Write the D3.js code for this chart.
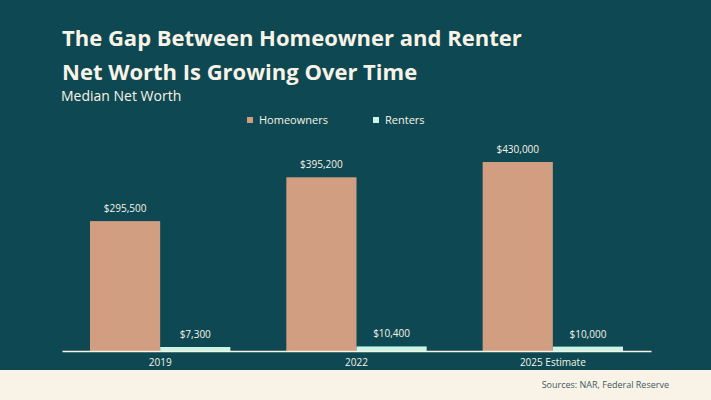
<!DOCTYPE html><html><head><meta charset="utf-8">
<script src="https://cdn.jsdelivr.net/npm/d3@7"></script>
<style>body{margin:0}svg{display:block}</style></head><body>
<script>
const categories = ["2019","2022","2025 Estimate"];
const seriesNames = ["Homeowners","Renters"];
const homeowners = [295500,395200,430000];
const renters = [7300,10400,10000];
const colors = ["#d19e82","#c8f5e6"];
const W=711,H=400;
const svg=d3.select("body").append("svg").attr("width",W).attr("height",H).style("font-family","'Open Sans',sans-serif");
svg.append("rect").attr("width",W).attr("height",370).attr("fill","#0e4852");
svg.append("rect").attr("y",370).attr("width",W).attr("height",30).attr("fill","#f8f3e6");
const x=d3.scaleBand().domain(categories).range([62,651]).paddingInner(0).paddingOuter(0);
const x1=d3.scaleBand().domain(seriesNames).range([28,x.bandwidth()-28]);
const y=d3.scaleLinear().domain([0,430000]).range([351,162]);
const fmt=v=>"$"+d3.format(",")(v);
const data=categories.map((c,i)=>({c,vals:[homeowners[i],renters[i]]}));
const g=svg.selectAll("g.grp").data(data).join("g").attr("transform",d=>`translate(${x(d.c)},0)`);
g.selectAll("rect").data(d=>d.vals.map((v,k)=>({v,k}))).join("rect")
 .attr("x",d=>x1(seriesNames[d.k])).attr("width",x1.bandwidth())
 .attr("y",d=>Math.min(y(d.v),351-4)).attr("height",d=>Math.max(351-y(d.v),4)+(d.k==1?0:0))
 .attr("fill",d=>colors[d.k]);
g.selectAll("text").data(d=>d.vals.map((v,k)=>({v,k}))).join("text")
 .attr("x",d=>x1(seriesNames[d.k])+x1.bandwidth()/2).attr("y",d=>Math.min(y(d.v),347)-9)
 .attr("text-anchor","middle").attr("fill","#f8f3e6").attr("font-size",10).text(d=>fmt(d.v));
const ax=svg.append("g").attr("transform","translate(0,351)").call(d3.axisBottom(x).tickSize(0).tickPadding(8));
ax.select(".domain").attr("stroke","#f8f3e6").attr("stroke-width",1.5);
ax.selectAll("text").attr("fill","#f8f3e6").attr("font-size",10).attr("font-family","'Open Sans',sans-serif");
svg.append("text").attr("x",62).attr("y",46).attr("fill","#f8f3e6").attr("font-size",22).attr("font-weight",700).text("The Gap Between Homeowner and Renter");
svg.append("text").attr("x",62).attr("y",80).attr("fill","#f8f3e6").attr("font-size",22).attr("font-weight",700).text("Net Worth Is Growing Over Time");
svg.append("text").attr("x",61).attr("y",101).attr("fill","#f8f3e6").attr("font-size",14).text("Median Net Worth");
const lx=[247,373];
seriesNames.forEach((s,i)=>{
 svg.append("rect").attr("x",lx[i]).attr("y",117).attr("width",6).attr("height",6).attr("fill",colors[i]);
 svg.append("text").attr("x",lx[i]+12).attr("y",124).attr("fill","#f8f3e6").attr("font-size",11).text(s);
});
svg.append("text").attr("x",669).attr("y",388).attr("text-anchor","end").attr("fill","#3d5a60").attr("font-size",9).text("Sources: NAR, Federal Reserve");
</script></body></html>
